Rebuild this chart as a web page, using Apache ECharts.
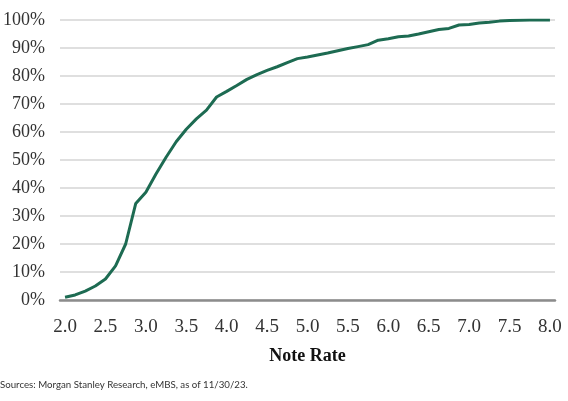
<!DOCTYPE html>
<html>
<head>
<meta charset="utf-8">
<script src="https://cdn.jsdelivr.net/npm/echarts@6/dist/echarts.min.js"></script>
<style>
  html, body { margin: 0; padding: 0; background: #fff; }
  #chart { width: 568px; height: 401px; }
</style>
</head>
<body>
<div id="chart"></div>
<script>
// note rates, in 1/8 steps
const noteRates = [
  2.0, 2.125, 2.25, 2.375, 2.5, 2.625, 2.75, 2.875,
  3.0, 3.125, 3.25, 3.375, 3.5, 3.625, 3.75, 3.875,
  4.0, 4.125, 4.25, 4.375, 4.5, 4.625, 4.75, 4.875,
  5.0, 5.125, 5.25, 5.375, 5.5, 5.625, 5.75, 5.875,
  6.0, 6.125, 6.25, 6.375, 6.5, 6.625, 6.75, 6.875,
  7.0, 7.125, 7.25, 7.375, 7.5, 7.625, 7.75, 7.875,
  8.0
];

// cumulative share (%)
const cumulativeShare = [
  1.0, 1.8, 3.2, 5.0, 7.5, 12.2, 20.0, 34.5,
  38.5, 45.0, 51.0, 56.5, 61.0, 64.7, 67.8, 72.5,
  74.5, 76.6, 78.8, 80.5, 82.0, 83.3, 84.8, 86.2,
  86.8, 87.5, 88.2, 89.0, 89.8, 90.5, 91.2, 92.8,
  93.3, 94.0, 94.3, 95.0, 95.8, 96.6, 97.0, 98.2,
  98.4, 98.9, 99.2, 99.6, 99.8, 99.9, 100, 100,
  100
];

const yTicks = [0, 10, 20, 30, 40, 50, 60, 70, 80, 90, 100];
const sourceNote = 'Sources: Morgan Stanley Research, eMBS, as of 11/30/23.';

const chart = echarts.init(document.getElementById('chart'));

const option = {
  animation: false,
  grid: { left: 60, right: 13, top: 20, bottom: 101, containLabel: false },
  xAxis: {
    type: 'category',
    data: noteRates.map(String),
    boundaryGap: true,
    name: 'Note Rate',
    nameLocation: 'middle',
    nameGap: 47,
    nameTextStyle: {
      fontFamily: 'Liberation Serif',
      fontWeight: 'bold',
      fontSize: 18,
      color: '#111'
    },
    axisTick: { show: false },
    axisLine: { lineStyle: { color: '#8c8c8c', width: 2.5 } },
    axisLabel: {
      interval: 3,
      margin: 18,
      fontFamily: 'Liberation Serif',
      fontSize: 19,
      color: '#333',
      formatter: v => Number(v).toFixed(1)
    },
    splitLine: { show: false }
  },
  yAxis: {
    type: 'value',
    min: yTicks[0],
    max: yTicks[yTicks.length - 1],
    interval: 10,
    axisLine: { show: false },
    axisTick: { show: false },
    axisLabel: {
      margin: 15,
      fontFamily: 'Liberation Serif',
      fontSize: 18,
      color: '#333',
      formatter: '{value}%'
    },
    splitLine: { lineStyle: { color: '#d4d4d4', width: 1.5 } }
  },
  series: [
    {
      type: 'line',
      data: cumulativeShare,
      showSymbol: false,
      smooth: false,
      lineStyle: { color: '#1d6b52', width: 3 }
    }
  ],
  graphic: [
    {
      type: 'text',
      left: 0,
      top: 380,
      style: {
        text: sourceNote,
        fontFamily: 'Lato',
        fontSize: 9.7,
        fill: '#333'
      }
    }
  ]
};

chart.setOption(option);
</script>
</body>
</html>
